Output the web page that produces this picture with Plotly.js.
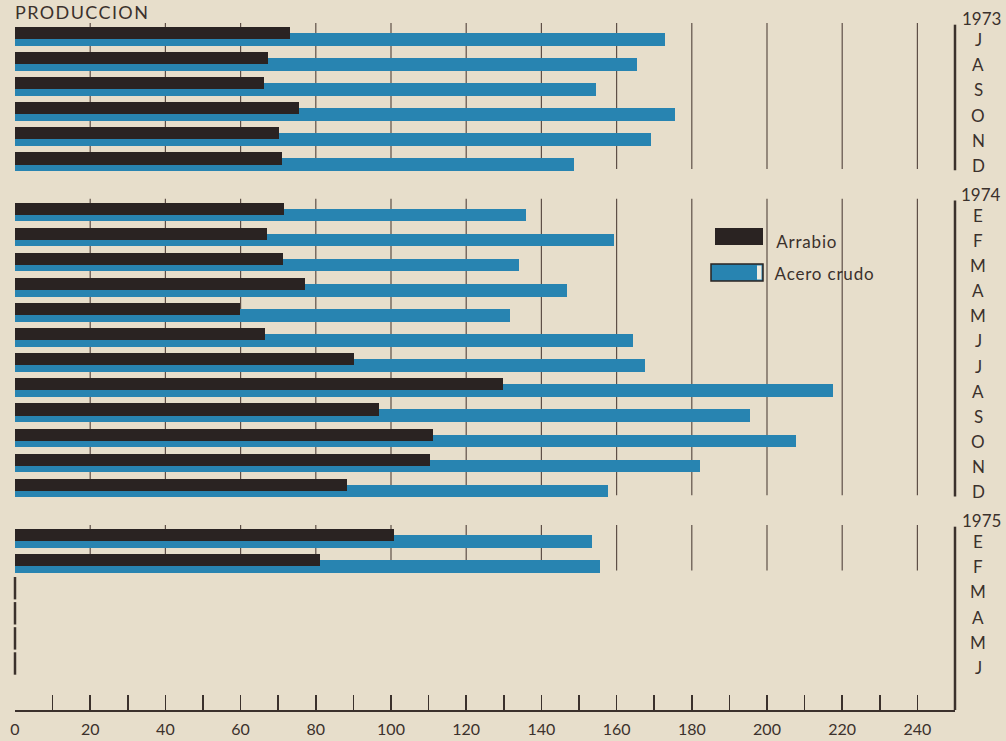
<!DOCTYPE html>
<html>
<head>
<meta charset="utf-8">
<script src="https://cdn.plot.ly/plotly-3.0.1.min.js"></script>
<style>
  html, body { margin: 0; padding: 0; background: #e7decb; }
  #chart { width: 1006px; height: 741px; }
  #chart .gtitle { letter-spacing: 1.4px; }
  #chart .legend-txt text, #chart g.annotation text.annotation-text { }
</style>
</head>
<body>
<div id="chart"></div>
<script>
// ---- data (miles de toneladas) ----
const years = ['1973', '1974', '1975'];
const months1973 = ['J', 'A', 'S', 'O', 'N', 'D'];
const months1974 = ['E', 'F', 'M', 'A', 'M', 'J', 'J', 'A', 'S', 'O', 'N', 'D'];
const months1975 = ['E', 'F', 'M', 'A', 'M', 'J'];

const arrabio1973 = [73.1, 67.2, 66.3, 75.4, 70.1, 71.0];
const acero1973   = [172.8, 165.5, 154.4, 175.5, 169.1, 148.6];
const arrabio1974 = [71.5, 67.0, 71.3, 77.0, 59.9, 66.6, 90.2, 129.7, 96.8, 111.1, 110.3, 88.4];
const acero1974   = [135.8, 159.2, 134.0, 146.9, 131.7, 164.3, 167.5, 217.6, 195.4, 207.8, 182.3, 157.6];
const arrabio1975 = [100.8, 81.2, null, null, null, null];
const acero1975   = [153.4, 155.5, null, null, null, null];

const xTickVals = [0, 10, 20, 30, 40, 50, 60, 70, 80, 90, 100, 110, 120, 130, 140, 150, 160, 170, 180, 190, 200, 210, 220, 230, 240];
const xTickLabelVals = [0, 20, 40, 60, 80, 100, 120, 140, 160, 180, 200, 220, 240];
const gridVals = [20, 40, 60, 80, 100, 120, 140, 160, 180, 200, 220, 240];

const titleText = 'PRODUCCION';
const seriesNames = ['Arrabio', 'Acero crudo'];

// ---- build rows (one empty slot between years) ----
const sections = [
  { year: years[0], months: months1973, arr: arrabio1973, ace: acero1973 },
  { year: years[1], months: months1974, arr: arrabio1974, ace: acero1974 },
  { year: years[2], months: months1975, arr: arrabio1975, ace: acero1975 }
];
const pos = [], arr = [], ace = [], lab = [];
let slot = 0;
sections.forEach((s) => {
  s.first = slot;
  s.months.forEach((m, i) => {
    pos.push(slot); arr.push(s.arr[i]); ace.push(s.ace[i]); lab.push(m);
    if (s.arr[i] !== null || s.ace[i] !== null) s.lastData = slot;
    slot++;
  });
  s.last = slot - 1;
  slot++; // gap
});

const INK = '#3b312c';
const BLUE = '#2884b1';
const BLACK = '#2a2322';
const BG = '#e7decb';
const FONT = 'Lato, "Open Sans", sans-serif';

// plot area in pixels
const L = 15, R = 955, T = 20, B = 710;
const yTop = -0.637, yBot = 26.853;
const px2paperX = p => (p - L) / (R - L);
const slot2paperY = s => (yBot - s) / (yBot - yTop);
const px2paperY = p => (B - p) / (B - T);

const traces = [
  {
    type: 'bar', orientation: 'h', name: seriesNames[1],
    x: ace, y: pos, width: 0.5, offset: -0.12,
    marker: { color: BLUE, line: { width: 0 } },
    showlegend: false, hoverinfo: 'x'
  },
  {
    type: 'bar', orientation: 'h', name: seriesNames[0],
    x: arr, y: pos, width: 0.48, offset: -0.36,
    marker: { color: BLACK, line: { width: 0 } },
    showlegend: false, hoverinfo: 'x'
  },
  {
    // stubs at zero for months without data
    type: 'scatter', mode: 'markers', name: 'sin datos',
    x: pos.filter((p, i) => arr[i] === null).map(() => 0),
    y: pos.filter((p, i) => arr[i] === null),
    marker: { symbol: 'line-ns', size: 16, line: { width: 2.5, color: INK } },
    cliponaxis: false, showlegend: false, hoverinfo: 'skip'
  }
];

const shapes = [];
const annotations = [];

sections.forEach((s, si) => {
  gridVals.forEach(g => {
    shapes.push({
      type: 'line', layer: 'below', xref: 'x', yref: 'y',
      x0: g, x1: g, y0: s.first - 0.52, y1: s.lastData + 0.3,
      line: { color: '#5e4f47', width: 1.2 }
    });
  });
  shapes.push({
    type: 'line', xref: 'paper', yref: 'y',
    x0: 1, x1: 1, y0: s.first - 0.45, y1: (si === sections.length - 1) ? yBot : s.last + 0.35,
    line: { color: INK, width: 2.5 }
  });
  annotations.push({
    xref: 'paper', yref: 'paper', x: px2paperX(981), y: slot2paperY(s.first - 0.7),
    text: s.year, showarrow: false, xanchor: 'center', yanchor: 'middle',
    font: { family: FONT, size: 17, color: INK }
  });
});

pos.forEach((p, i) => {
  annotations.push({
    xref: 'paper', yref: 'y', x: px2paperX(978), y: p + 0.15,
    text: lab[i], showarrow: false, xanchor: 'center', yanchor: 'middle',
    font: { family: FONT, size: 17, color: INK }
  });
});

// legend (drawn swatches + text)
shapes.push({
  type: 'rect', xref: 'paper', yref: 'paper',
  x0: px2paperX(715), x1: px2paperX(763), y0: px2paperY(245), y1: px2paperY(228),
  fillcolor: BLACK, line: { width: 0 }
});
shapes.push({
  type: 'rect', xref: 'paper', yref: 'paper',
  x0: px2paperX(711), x1: px2paperX(763), y0: px2paperY(281), y1: px2paperY(264),
  fillcolor: BLUE, line: { color: BLACK, width: 1.5 }
});
shapes.push({
  type: 'rect', xref: 'paper', yref: 'paper',
  x0: px2paperX(757), x1: px2paperX(761.5), y0: px2paperY(279.5), y1: px2paperY(265.5),
  fillcolor: '#f1ece0', line: { width: 0 }
});
annotations.push({
  xref: 'paper', yref: 'paper', x: px2paperX(777), y: px2paperY(241),
  text: seriesNames[0], showarrow: false, xanchor: 'left', yanchor: 'middle',
  font: { family: FONT, size: 17, color: INK }
});
annotations.push({
  xref: 'paper', yref: 'paper', x: px2paperX(777), y: px2paperY(273),
  text: seriesNames[1], showarrow: false, xanchor: 'left', yanchor: 'middle',
  font: { family: FONT, size: 17, color: INK }
});

const layout = {
  width: 1006, height: 741,
  margin: { l: L, r: 1006 - R, t: T, b: 741 - B, pad: 0 },
  paper_bgcolor: BG, plot_bgcolor: BG,
  barmode: 'overlay', bargap: 0,
  showlegend: false,
  title: {
    text: titleText, xref: 'container', yref: 'container',
    x: 15 / 1006, xanchor: 'left', y: 1 - 13 / 741, yanchor: 'middle',
    font: { family: FONT, size: 18, color: INK }
  },
  xaxis: {
    range: [0, 250], fixedrange: true,
    tickmode: 'array', tickvals: xTickVals,
    ticktext: xTickVals.map(v => xTickLabelVals.includes(v) ? String(v) : ''),
    ticks: 'inside', ticklen: 15, tickwidth: 1.5, tickcolor: INK,
    showline: true, linecolor: INK, linewidth: 2,
    showgrid: false, zeroline: false,
    ticklabelstandoff: 4,
    tickfont: { family: FONT, size: 16, color: INK }
  },
  yaxis: {
    range: [yBot, yTop], fixedrange: true,
    showticklabels: false, showgrid: false, zeroline: false, showline: false, ticks: ''
  },
  shapes: shapes,
  annotations: annotations
};

Plotly.newPlot('chart', traces, layout, { displayModeBar: false, staticPlot: true }).then(() => {
  // widen legend lettering slightly, like the printed original
  document.querySelectorAll('#chart g.annotation text').forEach(t => {
    if (seriesNames.includes(t.textContent)) t.style.letterSpacing = '0.8px';
  });
});
</script>
</body>
</html>
